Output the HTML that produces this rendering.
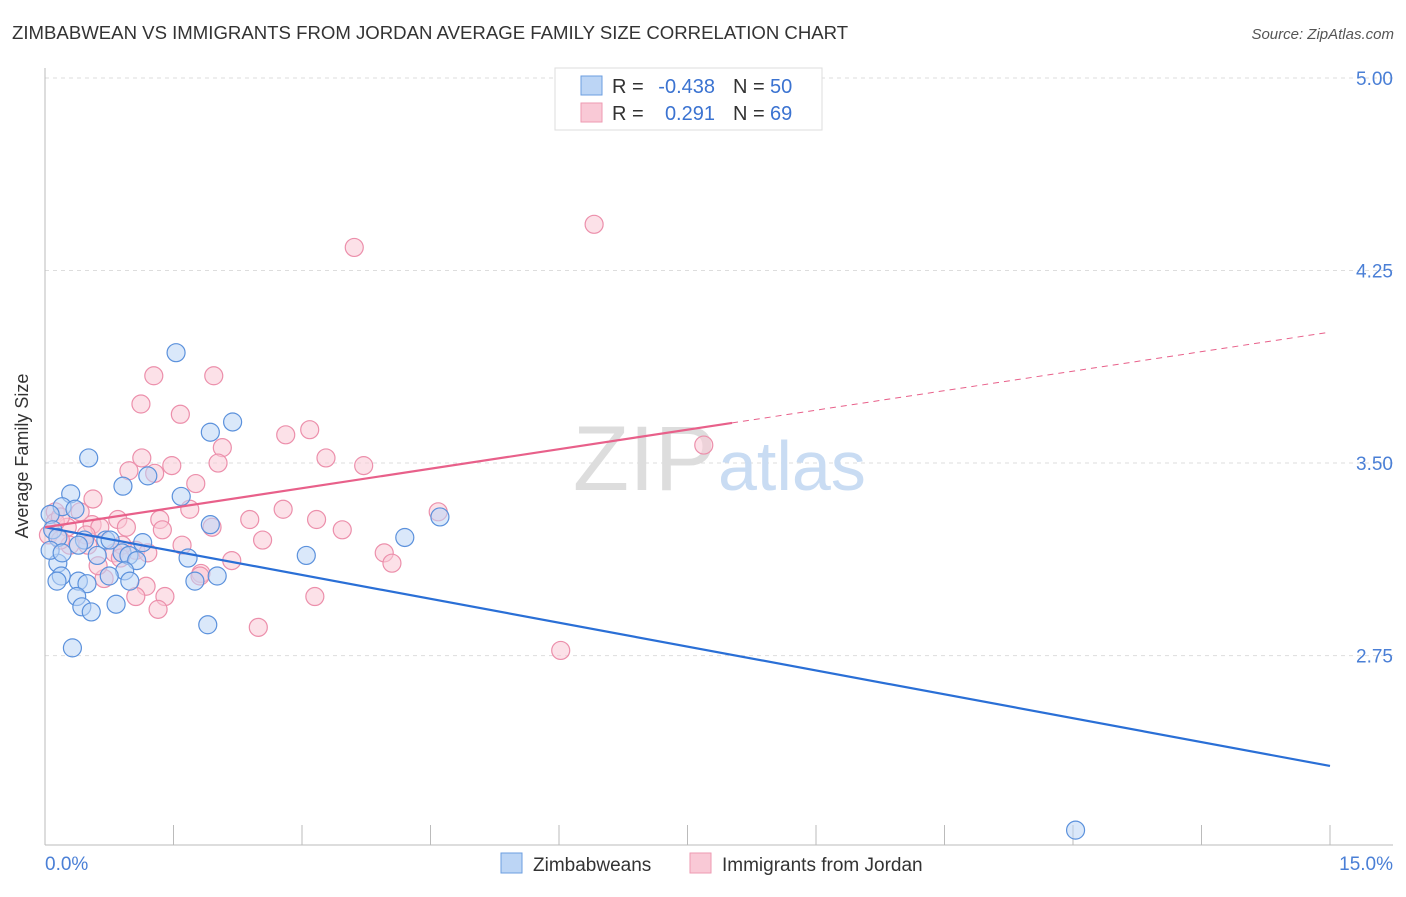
<!DOCTYPE html>
<html><head><meta charset="utf-8"><style>
body{margin:0;background:#fff;font-family:"Liberation Sans",sans-serif;}
svg text{font-family:"Liberation Sans",sans-serif;}
</style></head><body>
<svg width="1406" height="892" xmlns="http://www.w3.org/2000/svg">
<text x="12" y="39" font-size="18.6" fill="#333">ZIMBABWEAN VS IMMIGRANTS FROM JORDAN AVERAGE FAMILY SIZE CORRELATION CHART</text>
<text x="1394" y="39" font-size="15" fill="#555" font-style="italic" text-anchor="end">Source: ZipAtlas.com</text>
<g id="grid"></g>
<text x="716" y="490" font-size="92" fill="#ddd" text-anchor="end" font-family="Liberation Serif">ZIP</text>
<text x="718" y="490" font-size="70" fill="#c9dcf3">atlas</text>
<g id="marks"></g>
<text x="28" y="456" font-size="18" fill="#333" text-anchor="middle" transform="rotate(-90 28 456)">Average Family Size</text>
<text x="45" y="870" font-size="19" fill="#4a7fd6">0.0%</text>
<text x="1393" y="870" font-size="19" fill="#4a7fd6" text-anchor="end">15.0%</text>
<g>
<rect x="555" y="68" width="267" height="62" fill="#fff" stroke="#ddd"/>
<rect x="581" y="76" width="21" height="19" fill="#bcd5f5" stroke="#6b9ee0"/>
<rect x="581" y="103" width="21" height="19" fill="#f9c9d6" stroke="#ee9ab2"/>
<text x="612" y="93" font-size="20" fill="#333">R =</text>
<text x="715" y="93" font-size="20" fill="#3b73d1" text-anchor="end">-0.438</text>
<text x="733" y="93" font-size="20" fill="#333">N =</text>
<text x="770" y="93" font-size="20" fill="#3b73d1">50</text>
<text x="612" y="120" font-size="20" fill="#333">R =</text>
<text x="715" y="120" font-size="20" fill="#3b73d1" text-anchor="end">0.291</text>
<text x="733" y="120" font-size="20" fill="#333">N =</text>
<text x="770" y="120" font-size="20" fill="#3b73d1">69</text>
</g>
<g>
<rect x="501" y="853" width="21" height="20" fill="#bcd5f5" stroke="#6b9ee0"/>
<text x="533" y="871" font-size="19" fill="#333">Zimbabweans</text>
<rect x="690" y="853" width="21" height="20" fill="#f9c9d6" stroke="#ee9ab2"/>
<text x="722" y="871" font-size="19" fill="#333">Immigrants from Jordan</text>
</g>
</svg>
<script>
const yTicks=[5.00,4.25,3.50,2.75];
const blueX=[1.53,1.93,2.19,0.51,1.20,0.91,1.59,0.30,0.20,0.35,1.93,0.06,4.61,0.09,0.15,0.46,0.39,4.20,1.14,0.71,0.90,0.98,0.61,3.05,1.67,1.07,0.15,0.93,0.75,0.19,2.01,1.75,0.39,0.49,0.99,0.14,0.37,0.83,0.43,0.54,1.90,0.32,12.03,0.06,0.20,0.76];
const blueY=[3.93,3.62,3.66,3.52,3.45,3.41,3.37,3.38,3.33,3.32,3.26,3.30,3.29,3.24,3.21,3.20,3.18,3.21,3.19,3.20,3.15,3.14,3.14,3.14,3.13,3.12,3.11,3.08,3.06,3.06,3.06,3.04,3.04,3.03,3.04,3.04,2.98,2.95,2.94,2.92,2.87,2.78,2.07,3.16,3.15,3.20];
const pinkX=[6.41,3.61,1.27,1.97,1.12,1.58,2.07,2.81,3.09,7.69,2.02,3.28,3.72,1.13,0.98,1.28,1.48,1.76,0.56,0.12,0.41,1.34,0.85,1.69,2.78,3.17,2.39,1.95,4.59,0.26,0.55,0.64,0.95,3.47,1.37,2.54,1.60,3.96,2.18,4.05,0.29,0.12,0.81,1.06,1.20,0.90,1.82,0.69,1.18,1.40,1.06,1.32,3.15,2.49,6.02,0.04,0.18,0.48,0.62,0.88,0.18,1.81,0.50];
const pinkY=[4.43,4.34,3.84,3.84,3.73,3.69,3.56,3.61,3.63,3.57,3.50,3.52,3.49,3.52,3.47,3.46,3.49,3.42,3.36,3.31,3.31,3.28,3.28,3.32,3.32,3.28,3.28,3.25,3.31,3.25,3.26,3.25,3.25,3.24,3.24,3.20,3.18,3.15,3.12,3.11,3.18,3.27,3.15,3.16,3.15,3.18,3.07,3.05,3.02,2.98,2.98,2.93,2.98,2.86,2.77,3.22,3.20,3.22,3.10,3.13,3.29,3.06,3.18];
const blueTrend=[3.25,2.32];
const pinkTrend=[3.25,4.01];
const pinkSolidEnd=8.02;
const NS="http://www.w3.org/2000/svg";
const xs=v=>45+v*(1285/15);
const ys=v=>78+(5-v)*256.7;
const grid=document.getElementById('grid'),marks=document.getElementById('marks');
function mk(tag,attrs,parent){const e=document.createElementNS(NS,tag);for(const k in attrs)e.setAttribute(k,attrs[k]);parent.appendChild(e);return e;}
yTicks.forEach(t=>{
 const l=mk('line',{x1:45,x2:1393,y1:ys(t),y2:ys(t),stroke:'#ddd','stroke-dasharray':'4,4'},grid);
 
 
 const tx=mk('text',{x:1393,y:ys(t)+7,'font-size':19,fill:'#4a7fd6','text-anchor':'end'},grid);
 tx.textContent=t.toFixed(2);
 
 
});
const ax=mk('line',{x1:45,x2:45,y1:68,y2:845,stroke:'#bbb'},grid);


const bx=mk('line',{x1:45,x2:1393,y1:845,y2:845,stroke:'#bbb'},grid);


for(let i=0;i<=10;i++){const t=mk('line',{x1:xs(i*1.5),x2:xs(i*1.5),y1:825,y2:845,stroke:'#bbb'},grid);
 
 }
function pts(X,Y,fill,stroke,name){X.forEach((x,i)=>{const c=mk('circle',{cx:xs(x),cy:ys(Y[i]),r:9,fill:fill,'fill-opacity':0.55,stroke:stroke,'stroke-width':1.2},marks);
 
 });}
pts(pinkX,pinkY,'#f9c9d6','#ec8fab','jordan-point');
pts(blueX,blueY,'#bcd5f5','#5b91dc','zimbabwean-point');
const bl=mk('line',{x1:xs(0),y1:ys(blueTrend[0]),x2:xs(15),y2:ys(blueTrend[1]),stroke:'#2a6fd6','stroke-width':2.2},marks);


const pm=(pinkTrend[1]-pinkTrend[0])/15;
const pl=mk('line',{x1:xs(0),y1:ys(pinkTrend[0]),x2:xs(pinkSolidEnd),y2:ys(pinkTrend[0]+pm*pinkSolidEnd),stroke:'#e8608a','stroke-width':2.2},marks);


const pd=mk('line',{x1:xs(pinkSolidEnd),y1:ys(pinkTrend[0]+pm*pinkSolidEnd),x2:xs(15),y2:ys(pinkTrend[1]),stroke:'#e8608a','stroke-width':1,'stroke-dasharray':'6,5'},marks);


</script>
</body></html>
